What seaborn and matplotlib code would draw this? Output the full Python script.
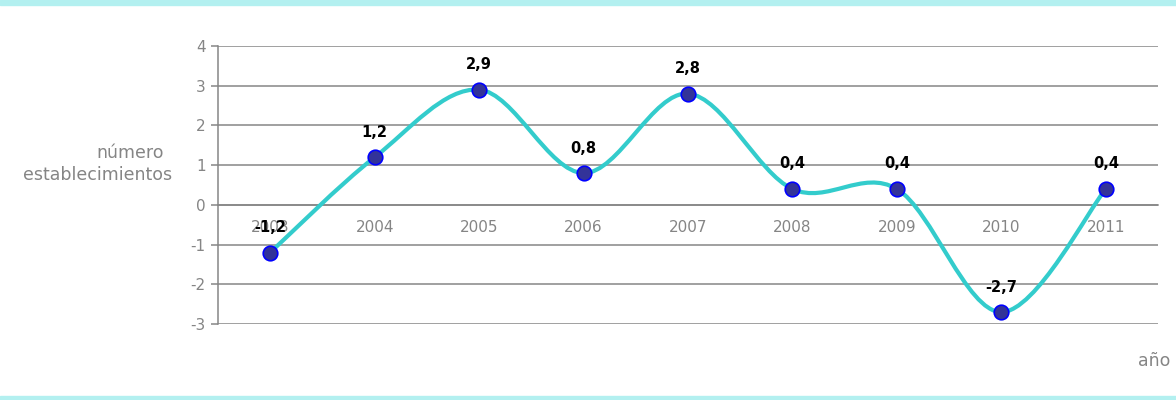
import numpy as np
import pandas as pd
import seaborn as sns
from matplotlib import pyplot as plt
from matplotlib.path import Path
from matplotlib.patches import PathPatch, Rectangle

years = ['2003', '2004', '2005', '2006', '2007', '2008', '2009', '2010', '2011']
values = [-1.2, 1.2, 2.9, 0.8, 2.8, 0.4, 0.4, -2.7, 0.4]
value_labels = ['-1,2', '1,2', '2,9', '0,8', '2,8', '0,4', '0,4', '-2,7', '0,4']

GRID = '#868686'
TEXT = '#858585'

sns.set_theme(style='white')
plt.rcParams['font.family'] = ['DejaVu Sans']

df = pd.DataFrame({'pos': np.arange(len(years)), 'value': values})

fig = plt.figure(figsize=(11.76, 4), dpi=100)
ax = fig.add_axes([218 / 1176, 1 - 324 / 400, 940 / 1176, 278 / 400])

# cyan bands on top and bottom of the figure
fig.patches.append(Rectangle((0, 1 - 5 / 400), 1, 5 / 400, transform=fig.transFigure,
                             color='#b3f0f0', zorder=0))
fig.patches.append(Rectangle((0, 0), 1, 4 / 400, transform=fig.transFigure,
                             color='#b3f0f0', zorder=0))

# smoothed line (Excel-like, catmull-rom as bezier)
pts = df[['pos', 'value']].to_numpy(dtype=float)
verts = [tuple(pts[0])]
codes = [Path.MOVETO]
n = len(pts)
for i in range(n - 1):
    p0 = pts[max(i - 1, 0)]
    p1 = pts[i]
    p2 = pts[i + 1]
    p3 = pts[min(i + 2, n - 1)]
    c1 = p1 + (p2 - p0) / 6
    c2 = p2 - (p3 - p1) / 6
    verts += [tuple(c1), tuple(c2), tuple(p2)]
    codes += [Path.CURVE4] * 3
ax.add_patch(PathPatch(Path(verts, codes), facecolor='none', edgecolor='#33cccc',
                       lw=3.0, capstyle='round', zorder=3))

sns.scatterplot(data=df, x='pos', y='value', ax=ax, s=110, color='#333399',
                edgecolor='#0000ff', linewidth=1.2, zorder=4, legend=False)

for x, y, lab in zip(df['pos'], df['value'], value_labels):
    ax.annotate(lab, (x, y), xytext=(0, 18), textcoords='offset points',
                ha='center', va='center', fontsize=10.5, fontweight='bold',
                color='black', zorder=5)

ax.set_xlim(-0.5, len(years) - 0.5)
ax.set_ylim(-3, 4)
ax.set_yticks(range(-3, 5))
ax.set_yticklabels([str(v) for v in range(-3, 5)])
ax.yaxis.grid(True, color=GRID, lw=1.1)
ax.set_axisbelow(True)

ax.set_xticks(df['pos'])
ax.set_xticklabels(years)
ax.set_xticks(np.arange(len(years) + 1) - 0.5, minor=True)
ax.tick_params(axis='x', which='major', length=0, pad=11, labelsize=11, labelcolor=TEXT)
ax.tick_params(axis='x', which='minor', length=5, width=1.1, color=GRID, direction='out')
ax.tick_params(axis='y', length=5, width=1.1, color=GRID, left=True, pad=4,
               labelsize=11, labelcolor=TEXT)

for side in ['top', 'right']:
    ax.spines[side].set_visible(False)
ax.spines['bottom'].set_position(('data', 0))
ax.spines['bottom'].set_color(GRID)
ax.spines['bottom'].set_linewidth(1.1)
ax.spines['left'].set_color(GRID)
ax.spines['left'].set_linewidth(1.1)
ax.set_xlabel('')
ax.set_ylabel('')

fig.text(164 / 1176, 1 - 153 / 400, 'número', ha='right', va='center',
         fontsize=12.5, color=TEXT)
fig.text(172 / 1176, 1 - 175 / 400, 'establecimientos', ha='right', va='center',
         fontsize=12.5, color=TEXT)
fig.text(1170 / 1176, 1 - 361 / 400, 'año', ha='right', va='center',
         fontsize=12.5, color=TEXT)

fig.savefig('out.png', dpi=100)
